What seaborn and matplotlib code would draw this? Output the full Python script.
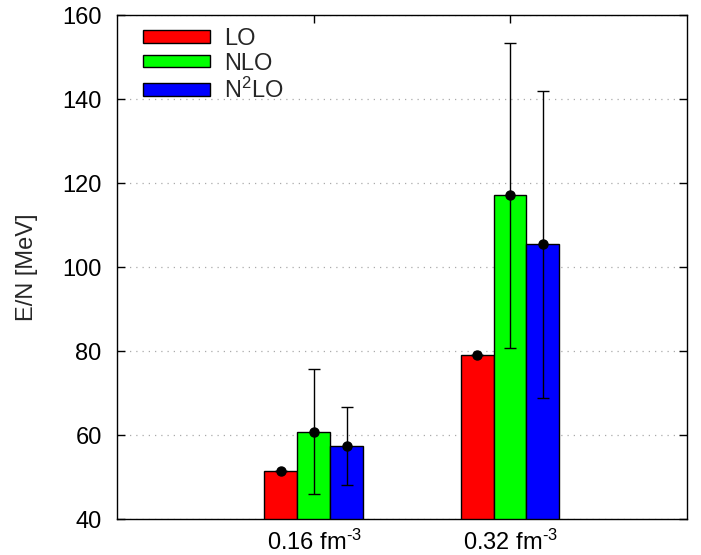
import numpy as np
import pandas as pd
import matplotlib
matplotlib.use('Agg')
import matplotlib.pyplot as plt
import seaborn as sns
from matplotlib.patches import Patch

# ---- data ----
densities = ['0.16 fm$^{\\text{-}3}$', '0.32 fm$^{\\text{-}3}$']
orders = ['LO', 'NLO', 'N$^2$LO']
colors = ['#ff0000', '#00ff00', '#0000ff']

lo_val = [51.4, 79.0]
nlo_val = [60.6, 117.1]
n2lo_val = [57.3, 105.4]

lo_low = [51.4, 79.0]
lo_high = [51.4, 79.0]
nlo_low = [45.9, 80.8]
nlo_high = [75.6, 153.3]
n2lo_low = [48.0, 68.9]
n2lo_high = [66.7, 141.9]

yticks = [40, 60, 80, 100, 120, 140, 160]

# ---- style ----
sns.set_style('ticks')
plt.rcParams['font.family'] = ['Liberation Sans', 'DejaVu Sans']
plt.rcParams['mathtext.fontset'] = 'custom'
plt.rcParams['mathtext.rm'] = 'Liberation Sans'
plt.rcParams['mathtext.it'] = 'Liberation Sans:italic'
plt.rcParams['mathtext.bf'] = 'Liberation Sans:bold'

FS = 17

df = pd.DataFrame({
    'density': densities * 3,
    'order': [orders[0]] * 2 + [orders[1]] * 2 + [orders[2]] * 2,
    'value': lo_val + nlo_val + n2lo_val,
})

fig = plt.figure(figsize=(7.01, 5.55), dpi=100)
ax = fig.add_axes([117 / 701, 1 - 519 / 555, (687 - 117) / 701, (519 - 15) / 555])

sns.barplot(data=df, x='density', y='value', hue='order', hue_order=orders,
            palette=colors, width=0.505, gap=0, saturation=1,
            edgecolor='black', linewidth=1.0, errorbar=None, legend=False, ax=ax,
            zorder=2)

lows = [lo_low, nlo_low, n2lo_low]
highs = [lo_high, nlo_high, n2lo_high]
vals = [lo_val, nlo_val, n2lo_val]
bar_containers = list(ax.containers)
for i, cont in enumerate(bar_containers):
    xs = [p.get_x() + p.get_width() / 2 for p in cont.patches]
    v = np.array(vals[i])
    lo = np.array(lows[i])
    hi = np.array(highs[i])
    ax.errorbar(xs, v, yerr=[v - lo, hi - v], fmt='o', color='black',
                ms=6.5, capsize=4, elinewidth=1.0, capthick=1.0, zorder=5)

ax.set_ylim(40, 160)
ax.set_xlim(-1.005, 1.903)
ax.set_yticks(yticks)
ax.yaxis.grid(True, linestyle=(0, (1, 4)), color='#aaaaaa', linewidth=0.9)
ax.set_axisbelow(True)

ax.tick_params(direction='in', top=True, right=True, length=6, width=1,
               labelsize=FS, colors='black')
ax.tick_params(axis='y', pad=11)
ax.tick_params(axis='x', pad=8)
for s in ax.spines.values():
    s.set_linewidth(1.0)
    s.set_color('black')

ax.set_xlabel('')
ax.set_ylabel('E/N [MeV]', fontsize=FS)
ax.yaxis.set_label_coords(-0.138, 0.5)

handles = [Patch(facecolor=c, edgecolor='black', linewidth=1.0) for c in colors]
ax.legend(handles, orders, loc='upper left', frameon=False, fontsize=FS,
          handlelength=2.84, handleheight=0.42, labelspacing=0.12,
          handletextpad=0.6, borderaxespad=0.0, borderpad=0.4,
          bbox_to_anchor=(0.029, 0.993))

fig.savefig('out.png', dpi=100)
